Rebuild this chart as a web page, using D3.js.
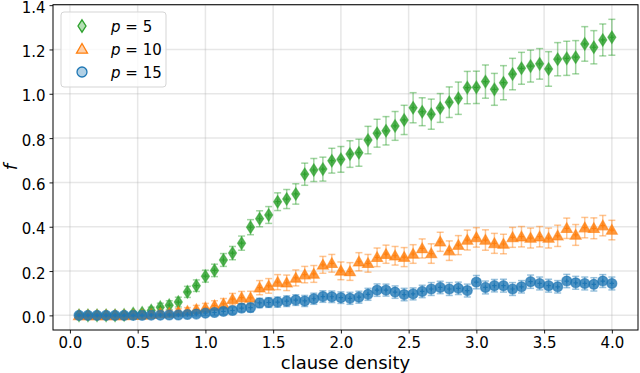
<!DOCTYPE html>
<html>
<head>
<meta charset="utf-8">
<script src="https://cdn.jsdelivr.net/npm/d3@7"></script>
<style>
  body { margin: 0; background: #fff; }
  svg text { font-family: "DejaVu Sans", sans-serif; fill: #000; }
</style>
</head>
<body>
<svg id="chart" width="640" height="373"></svg>
<script>
// clause density values (m/n with n = 15)
var density = [0.067, 0.133, 0.2, 0.267, 0.333, 0.4, 0.467, 0.533, 0.6, 0.667,
  0.733, 0.8, 0.867, 0.933, 1.0, 1.067, 1.133, 1.2, 1.267, 1.333,
  1.4, 1.467, 1.533, 1.6, 1.667, 1.733, 1.8, 1.867, 1.933, 2.0,
  2.067, 2.133, 2.2, 2.267, 2.333, 2.4, 2.467, 2.533, 2.6, 2.667,
  2.733, 2.8, 2.867, 2.933, 3.0, 3.067, 3.133, 3.2, 3.267, 3.333,
  3.4, 3.467, 3.533, 3.6, 3.667, 3.733, 3.8, 3.867, 3.933, 4.0]

var f5 = [0, 0, 0, 0, 0, 0.002, 0.008, 0.012, 0.022, 0.037,
  0.046, 0.06, 0.106, 0.134, 0.177, 0.203, 0.25, 0.281, 0.326, 0.398,
  0.436, 0.453, 0.513, 0.525, 0.548, 0.637, 0.656, 0.66, 0.698, 0.704,
  0.728, 0.734, 0.791, 0.822, 0.833, 0.855, 0.882, 0.937, 0.919, 0.908,
  0.936, 0.962, 0.98, 1.028, 1.029, 1.055, 1.02, 1.05, 1.089, 1.115,
  1.125, 1.135, 1.112, 1.156, 1.16, 1.165, 1.225, 1.21, 1.243, 1.255]
var err5 = [0.008, 0.008, 0.008, 0.008, 0.008, 0.008, 0.01, 0.01, 0.015, 0.018,
  0.02, 0.022, 0.025, 0.026, 0.027, 0.028, 0.029, 0.03, 0.032, 0.034,
  0.036, 0.038, 0.04, 0.043, 0.046, 0.05, 0.052, 0.054, 0.056, 0.058,
  0.06, 0.061, 0.062, 0.063, 0.064, 0.065, 0.066, 0.068, 0.063, 0.068,
  0.065, 0.069, 0.073, 0.073, 0.073, 0.075, 0.072, 0.077, 0.071, 0.072,
  0.072, 0.069, 0.078, 0.075, 0.077, 0.075, 0.078, 0.075, 0.072, 0.081]

var f10 = [0, 0, 0, 0, 0, 0, 0.001, 0.002, 0.005, 0.009,
  0.01, 0.016, 0.019, 0.027, 0.034, 0.044, 0.052, 0.073, 0.08, 0.079,
  0.125, 0.133, 0.15, 0.147, 0.169, 0.184, 0.187, 0.228, 0.235, 0.201,
  0.198, 0.242, 0.235, 0.262, 0.276, 0.269, 0.263, 0.277, 0.302, 0.279,
  0.332, 0.292, 0.317, 0.34, 0.352, 0.34, 0.325, 0.322, 0.352, 0.355,
  0.349, 0.355, 0.349, 0.359, 0.393, 0.363, 0.396, 0.393, 0.405, 0.385]
var err10 = [0.004, 0.004, 0.004, 0.004, 0.004, 0.004, 0.004, 0.004, 0.008, 0.01,
  0.012, 0.014, 0.016, 0.018, 0.02, 0.022, 0.024, 0.026, 0.028, 0.03,
  0.032, 0.033, 0.034, 0.035, 0.036, 0.037, 0.038, 0.038, 0.04, 0.04,
  0.04, 0.041, 0.04, 0.042, 0.041, 0.042, 0.043, 0.042, 0.043, 0.044,
  0.043, 0.044, 0.043, 0.045, 0.044, 0.046, 0.045, 0.044, 0.045, 0.046,
  0.045, 0.046, 0.045, 0.048, 0.046, 0.047, 0.046, 0.047, 0.046, 0.044]

var f15 = [0, 0, 0, 0, 0, 0, 0, 0, 0.001, 0.001,
  0.002, 0.002, 0.004, 0.006, 0.01, 0.013, 0.018, 0.022, 0.033, 0.035,
  0.056, 0.058, 0.06, 0.064, 0.069, 0.065, 0.075, 0.085, 0.084, 0.08,
  0.077, 0.082, 0.095, 0.114, 0.114, 0.105, 0.094, 0.097, 0.108, 0.119,
  0.126, 0.119, 0.122, 0.112, 0.15, 0.126, 0.134, 0.134, 0.119, 0.129,
  0.152, 0.144, 0.134, 0.129, 0.155, 0.147, 0.144, 0.14, 0.155, 0.144]
var err15 = [0.004, 0.004, 0.004, 0.004, 0.004, 0.004, 0.004, 0.004, 0.004, 0.004,
  0.004, 0.004, 0.006, 0.008, 0.01, 0.012, 0.014, 0.016, 0.018, 0.02,
  0.021, 0.022, 0.023, 0.024, 0.024, 0.025, 0.025, 0.026, 0.026, 0.026,
  0.027, 0.027, 0.027, 0.028, 0.027, 0.028, 0.028, 0.027, 0.028, 0.029,
  0.028, 0.029, 0.028, 0.029, 0.03, 0.029, 0.028, 0.029, 0.029, 0.028,
  0.03, 0.029, 0.029, 0.028, 0.03, 0.029, 0.029, 0.03, 0.029, 0.029]

var xTicks = [0, 0.5, 1, 1.5, 2, 2.5, 3, 3.5, 4]
var yTicks = [0, 0.2, 0.4, 0.6, 0.8, 1.0, 1.2, 1.4]

var series = [
  {label: "5", values: f5, err: err5, color: "#2ca02c", marker: "diamond"},
  {label: "10", values: f10, err: err10, color: "#ff7f0e", marker: "triangle"},
  {label: "15", values: f15, err: err15, color: "#1f77b4", marker: "circle"}
]

var svg = d3.select("#chart")
var plotLeft = 53, plotRight = 638, plotTop = 4.7, plotBottom = 330

var x = d3.scaleLinear().domain([-0.125, 4.193]).range([plotLeft, plotRight])
var y = d3.scaleLinear().domain([-0.066, 1.402]).range([plotBottom, plotTop])

// grid
var grid = svg.append("g")
grid.selectAll(".gx").data(xTicks).enter().append("line")
  .attr("x1", d => x(d)).attr("x2", d => x(d))
  .attr("y1", plotTop).attr("y2", plotBottom)
  .attr("stroke", "#b0b0b0").attr("stroke-opacity", 0.3).attr("stroke-width", 1.5)
grid.selectAll(".gy").data(yTicks).enter().append("line")
  .attr("x1", plotLeft).attr("x2", plotRight)
  .attr("y1", d => y(d)).attr("y2", d => y(d))
  .attr("stroke", "#b0b0b0").attr("stroke-opacity", 0.3).attr("stroke-width", 1.5)

function markerPath(type, s) {
  if (type == "diamond") return `M0,${-s*0.62}L${s*0.4},0L0,${s*0.62}L${-s*0.4},0Z`
  if (type == "triangle") return `M0,${-s*0.55}L${s*0.55},${s*0.42}L${-s*0.55},${s*0.42}Z`
  return d3.symbol().type(d3.symbolCircle).size(s * s * 0.78)()
}

var plot = svg.append("g")
series.forEach(function(s) {
  var pts = density.map((d, i) => ({x: d, y: s.values[i], e: s.err[i]}))
  var g = plot.append("g")
  var eb = g.append("g").attr("stroke", s.color).attr("stroke-opacity", 0.45).attr("stroke-width", 1.5)
  eb.selectAll(".v").data(pts).enter().append("line")
    .attr("x1", d => x(d.x)).attr("x2", d => x(d.x))
    .attr("y1", d => y(d.y - d.e)).attr("y2", d => y(d.y + d.e))
  ;[-1, 1].forEach(function(sign) {
    eb.selectAll(".c" + sign).data(pts).enter().append("line")
      .attr("x1", d => x(d.x) - 3.5).attr("x2", d => x(d.x) + 3.5)
      .attr("y1", d => y(d.y + sign * d.e)).attr("y2", d => y(d.y + sign * d.e))
  })
  var mk = g.selectAll(".m").data(pts).enter().append("g")
    .attr("transform", d => `translate(${x(d.x)},${y(d.y)})`)
  mk.append("path").attr("d", markerPath(s.marker, 10))
    .attr("fill", s.color).attr("fill-opacity", 0.8)
    .attr("stroke", s.color).attr("stroke-opacity", 0.6).attr("stroke-width", 1.2)
  mk.append("path").attr("d", "M0,-2.2V2.2M-2.2,0H2.2")
    .attr("stroke", s.color).attr("stroke-width", 1.2)
})

// axes
var xAxis = svg.append("g").attr("transform", `translate(0,${plotBottom})`)
  .call(d3.axisBottom(x).tickValues(xTicks).tickFormat(d3.format(".1f")).tickSizeOuter(0).tickSize(3.5).tickPadding(4))
var yAxis = svg.append("g").attr("transform", `translate(${plotLeft},0)`)
  .call(d3.axisLeft(y).tickValues(yTicks).tickFormat(d3.format(".1f")).tickSizeOuter(0).tickSize(3.5).tickPadding(4))
;[xAxis, yAxis].forEach(function(a) {
  a.select(".domain").remove()
  a.selectAll("text").attr("font-size", 15).attr("font-family", "DejaVu Sans")
  a.selectAll("line").attr("stroke", "#000").attr("stroke-width", 0.9)
})
xAxis.selectAll("text").attr("dy", "0.71em")
yAxis.selectAll("text").attr("dy", "0.47em")

// frame
svg.append("rect").attr("x", plotLeft).attr("y", plotTop)
  .attr("width", plotRight - plotLeft).attr("height", plotBottom - plotTop)
  .attr("fill", "none").attr("stroke", "#000").attr("stroke-width", 1)

svg.append("text").attr("x", (plotLeft + plotRight) / 2).attr("y", 369)
  .attr("text-anchor", "middle").attr("font-size", 18).text("clause density")
svg.append("text").attr("transform", "translate(17,167) rotate(-90)")
  .attr("text-anchor", "middle").attr("font-size", 18).attr("font-style", "italic").text("f")

// legend
var lg = svg.append("g")
lg.append("rect").attr("x", 61).attr("y", 12).attr("width", 105).attr("height", 75).attr("rx", 3)
  .attr("fill", "#fff").attr("fill-opacity", 0.8).attr("stroke", "#d5d5d5").attr("stroke-width", 1)
series.forEach(function(s, i) {
  var cy = 26 + i * 23
  lg.append("path").attr("transform", `translate(82,${cy})`).attr("d", markerPath(s.marker, 10))
    .attr("fill", s.color).attr("fill-opacity", 0.35)
    .attr("stroke", s.color).attr("stroke-width", 1.3)
  var t = lg.append("text").attr("x", 111).attr("y", cy + 5.5).attr("font-size", 15)
  t.append("tspan").attr("font-style", "italic").text("p")
  t.append("tspan").text(" = " + s.label)
})
</script>
</body>
</html>
